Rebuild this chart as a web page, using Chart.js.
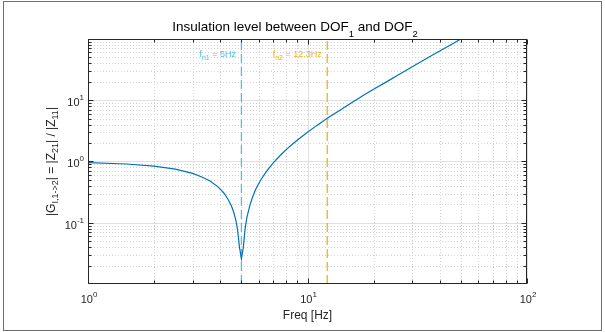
<!DOCTYPE html>
<html><head><meta charset="utf-8">
<script src="https://cdn.jsdelivr.net/npm/chart.js@4/dist/chart.umd.min.js"></script>
<style>html,body{margin:0;padding:0;background:#fff;}#wrap{width:605px;height:332px;position:relative;}canvas{display:block;}</style>
</head><body><div id="wrap"><canvas id="c" width="605" height="332"></canvas></div>
<script>
// ---- data ----
const freqHz = [1, 1.5, 2, 2.5, 3, 3.3, 3.6, 3.9, 4.15, 4.35, 4.5, 4.62, 4.72, 4.8, 4.9, 5.0,
  5.1, 5.2, 5.3, 5.45, 5.6, 5.8, 6.1, 6.5, 7, 7.6, 8.3, 9, 10, 11, 12.3, 14, 16, 18, 20, 23, 26, 30, 35, 40, 45, 50];
const insulation = [0.96, 0.91, 0.84, 0.75, 0.64, 0.56, 0.48, 0.39, 0.31, 0.24, 0.19, 0.146, 0.109, 0.078, 0.040, 0.026,
  0.040, 0.082, 0.124, 0.188, 0.254, 0.35, 0.49, 0.69, 0.96, 1.31, 1.76, 2.24, 3.0, 3.84, 5.05, 6.8, 9.2, 12, 15, 20, 26, 35, 48, 63, 80, 99];
const resonanceFreqs = [5, 12.3];
const resonanceNames = ['n1', 'n2'];
const resonanceValues = ['5Hz', '12.3Hz'];
const resonanceColors = ['#4DBEEE', '#EDB120'];
const xTickValues = [1, 10, 100];
const xTickExps = ['0', '1', '2'];
const yTickValues = [0.1, 1, 10];
const yTickExps = ['-1', '0', '1'];
const xRange = [1, 100];
const yRange = [0.0101, 99];

const FONT = '"Liberation Sans", Arial, Helvetica, sans-serif';
const TXT = '#262626';

function drawRich(ctx, parts, x, y, align) {
  let w = 0;
  parts.forEach(p => { ctx.font = p[1] + 'px ' + FONT; w += ctx.measureText(p[0]).width; });
  let cx = align === 'center' ? x - w / 2 : (align === 'right' ? x - w : x);
  ctx.textAlign = 'left';
  ctx.textBaseline = 'alphabetic';
  parts.forEach(p => { ctx.font = p[1] + 'px ' + FONT; ctx.fillText(p[0], cx, y + p[2]); cx += ctx.measureText(p[0]).width; });
  return w;
}

const decor = {
  id: 'decor',
  beforeDatasetsDraw(chart) {
    const ctx = chart.ctx, a = chart.chartArea;
    const xs = chart.scales.x, ys = chart.scales.y;
    ctx.save();
    ctx.strokeStyle = '#d3d3d3'; ctx.lineWidth = 1; ctx.setLineDash([1, 2]);
    for (let d = 1; d < 100; d *= 10) for (let k = 2; k <= 9; k++) {
      const x = Math.round(xs.getPixelForValue(k * d)) + 0.5;
      ctx.beginPath(); ctx.moveTo(x, a.top); ctx.lineTo(x, a.bottom); ctx.stroke();
    }
    for (let d = 0.01; d < 100; d *= 10) for (let k = 2; k <= 9; k++) {
      const v = k * d; if (v <= yRange[0] || v >= yRange[1]) continue;
      const y = Math.round(ys.getPixelForValue(v)) + 0.5;
      ctx.beginPath(); ctx.moveTo(a.left, y); ctx.lineTo(a.right, y); ctx.stroke();
    }
    ctx.setLineDash([]); ctx.strokeStyle = '#e0e0e0';
    xTickValues.forEach(v => { const x = Math.round(xs.getPixelForValue(v)) + 0.5;
      ctx.beginPath(); ctx.moveTo(x, a.top); ctx.lineTo(x, a.bottom); ctx.stroke(); });
    yTickValues.forEach(v => { const y = Math.round(ys.getPixelForValue(v)) + 0.5;
      ctx.beginPath(); ctx.moveTo(a.left, y); ctx.lineTo(a.right, y); ctx.stroke(); });
    ctx.restore();
  },
  afterDraw(chart) {
    const ctx = chart.ctx, a = chart.chartArea;
    const xs = chart.scales.x, ys = chart.scales.y;
    ctx.save();
    ctx.strokeStyle = '#6e6e6e'; ctx.lineWidth = 1;
    ctx.strokeRect(3.5, 1.5, 598, 329);
    const L = Math.round(a.left) + 0.5, R = Math.round(a.right) - 0.5, T = Math.round(a.top) + 0.5, B = Math.round(a.bottom) - 0.5;
    ctx.strokeStyle = '#262626';
    ctx.strokeRect(L, T, R - L, B - T);
    ctx.beginPath();
    for (let d = 1; d <= 100; d *= 10) for (let k = 1; k <= 9; k++) {
      const v = k * d; if (v > 100) break;
      const len = k === 1 ? 5 : 3;
      const x = Math.round(xs.getPixelForValue(v)) + 0.5;
      ctx.moveTo(x, B); ctx.lineTo(x, B - len); ctx.moveTo(x, T); ctx.lineTo(x, T + len);
    }
    for (let d = 0.01; d < 100; d *= 10) for (let k = 1; k <= 9; k++) {
      const v = k * d; if (v <= yRange[0] || v >= yRange[1]) continue;
      const len = k === 1 ? 5 : 3;
      const y = Math.round(ys.getPixelForValue(v)) + 0.5;
      ctx.moveTo(L, y); ctx.lineTo(L + len, y); ctx.moveTo(R, y); ctx.lineTo(R - len, y);
    }
    ctx.stroke();
    ctx.fillStyle = TXT;
    xTickValues.forEach((v, i) => {
      drawRich(ctx, [['10', 11, 0], [xTickExps[i], 8, -6]], xs.getPixelForValue(v) + 1, 303, 'center');
    });
    yTickValues.forEach((v, i) => {
      drawRich(ctx, [['10', 11, 0], [yTickExps[i], 8, -6]], a.left - 4, ys.getPixelForValue(v) + 6, 'right');
    });
    drawRich(ctx, [['Freq [Hz]', 12, 0]], (a.left + a.right) / 2, 319, 'center');
    ctx.save();
    ctx.translate(55, (a.top + a.bottom) / 2);
    ctx.rotate(-Math.PI / 2);
    drawRich(ctx, [['|G', 12, 0], ['I,1->2', 9, 3], ['| = |Z', 12, 0], ['21', 9, 3], ['| / |Z', 12, 0], ['11', 9, 3], ['|', 12, 0]], 0, 0, 'center');
    ctx.restore();
    ctx.fillStyle = '#000';
    drawRich(ctx, [['Insulation level between DOF', 13.5, 0], ['1', 9.5, 6], [' and DOF', 13.5, 0], ['2', 9.5, 6]], 295, 30.5, 'center');
    resonanceFreqs.forEach((f, i) => {
      ctx.fillStyle = resonanceColors[i];
      drawRich(ctx, [['f', 9, 0], [resonanceNames[i], 7, 3], [' = ' + resonanceValues[i], 9, 0]], xs.getPixelForValue(f) - 5.5, 56.5, 'right');
    });
    ctx.restore();
  }
};

const datasets = [{
  data: freqHz.map((f, i) => ({ x: f, y: insulation[i] })),
  borderColor: '#0072BD', borderWidth: 1.2, pointRadius: 0, tension: 0, fill: false
}];
resonanceFreqs.forEach((f, i) => datasets.push({
  data: [{ x: f, y: yRange[0] }, { x: f, y: yRange[1] }],
  borderColor: resonanceColors[i], borderWidth: 1.3, borderDash: [9, 4], pointRadius: 0, fill: false
}));

new Chart(document.getElementById('c'), {
  type: 'line',
  data: { datasets },
  options: {
    responsive: false, devicePixelRatio: 1, animation: false,
    layout: { padding: { left: 88, right: 78, top: 39, bottom: 48 } },
    plugins: { legend: { display: false }, tooltip: { enabled: false }, title: { display: false } },
    scales: {
      x: { type: 'logarithmic', min: xRange[0], max: xRange[1], display: false },
      y: { type: 'logarithmic', min: yRange[0], max: yRange[1], display: false }
    }
  },
  plugins: [decor]
});
</script></body></html>
